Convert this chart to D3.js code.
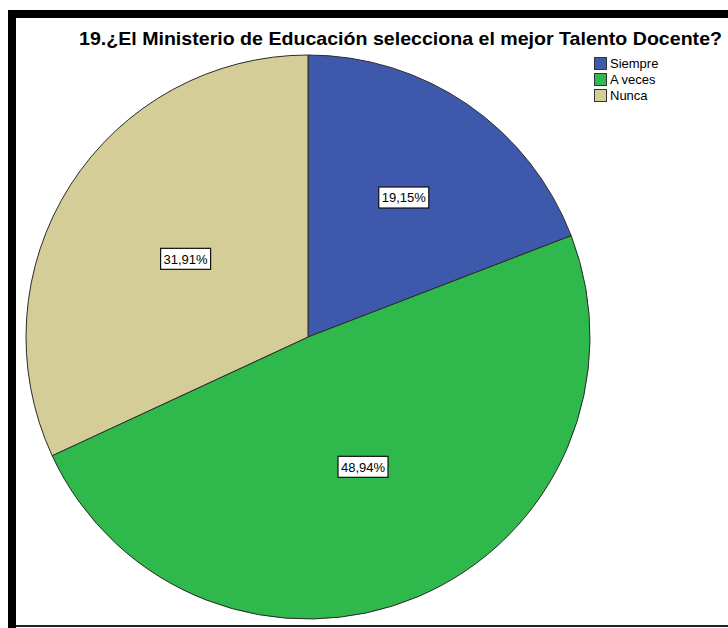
<!DOCTYPE html>
<html>
<head>
<meta charset="utf-8">
<script src="https://cdn.jsdelivr.net/npm/d3@7"></script>
<style>
  html, body { margin: 0; padding: 0; background: #ffffff; }
  svg { display: block; }
</style>
</head>
<body>
<svg id="chart" width="728" height="628"></svg>
<script>
// Survey answers for question 19
const categories = ["Siempre", "A veces", "Nunca"];
const percentages = [19.15, 48.94, 31.91];
const labels = ["19,15%", "48,94%", "31,91%"];
const title = "19.¿El Ministerio de Educación selecciona el mejor Talento Docente?";

const colors = ["#3e58ab", "#2fb84b", "#d4cd98"];
// how far from the centre each percentage box sits, as a share of the radius
const labelRadiusShare = [0.6, 0.5, 0.515];

const svg = d3.select("#chart");
const W = 728, H = 628;

// frame
svg.append("rect").attr("x", 8).attr("y", 10).attr("width", W - 8).attr("height", 8).attr("fill", "#000");
svg.append("rect").attr("x", 8).attr("y", 10).attr("width", 8).attr("height", H - 10).attr("fill", "#000");
svg.append("rect").attr("x", 16).attr("y", 625).attr("width", W - 16).attr("height", 2).attr("fill", "#222");

// title
svg.append("text")
  .attr("x", 79).attr("y", 45)
  .attr("font-family", "Liberation Sans, Arial, sans-serif")
  .attr("font-weight", "bold")
  .attr("font-size", 18.5)
  .attr("textLength", 643)
  .attr("lengthAdjust", "spacingAndGlyphs")
  .attr("fill", "#000")
  .text(title);

// pie
const cx = 308, cy = 337, R = 282;
const pie = d3.pie().sort(null).value(d => d)(percentages);
const arc = d3.arc().innerRadius(0).outerRadius(R);

const g = svg.append("g").attr("transform", `translate(${cx},${cy})`);
g.selectAll("path.slice")
  .data(pie)
  .join("path")
  .attr("class", "slice")
  .attr("d", arc)
  .attr("fill", (d, i) => colors[i])
  .attr("stroke", "#2a2a2a")
  .attr("stroke-width", 1);

// percentage boxes
const lbl = g.selectAll("g.lbl")
  .data(pie)
  .join("g")
  .attr("class", "lbl")
  .attr("transform", (d, i) => {
    const a = (d.startAngle + d.endAngle) / 2;
    const r = R * labelRadiusShare[i];
    return `translate(${r * Math.sin(a)},${-r * Math.cos(a)})`;
  });
lbl.append("rect")
  .attr("x", -25).attr("y", -10.5)
  .attr("width", 50).attr("height", 21)
  .attr("fill", "#fff")
  .attr("stroke", "#111")
  .attr("stroke-width", 1.2);
lbl.append("text")
  .attr("text-anchor", "middle")
  .attr("dy", "0.36em")
  .attr("font-family", "Liberation Sans, Arial, sans-serif")
  .attr("font-size", 13)
  .attr("fill", "#000")
  .text((d, i) => labels[i]);

// legend
const leg = svg.append("g").attr("transform", "translate(594,57)");
const rows = leg.selectAll("g")
  .data(categories)
  .join("g")
  .attr("transform", (d, i) => `translate(0,${i * 16})`);
rows.append("rect")
  .attr("x", 0.5).attr("y", 0.5)
  .attr("width", 12).attr("height", 12)
  .attr("fill", (d, i) => colors[i])
  .attr("stroke", "#333")
  .attr("stroke-width", 1);
rows.append("text")
  .attr("x", 16).attr("y", 11)
  .attr("font-family", "Liberation Sans, Arial, sans-serif")
  .attr("font-size", 13)
  .attr("fill", "#000")
  .text(d => d);
</script>
</body>
</html>
